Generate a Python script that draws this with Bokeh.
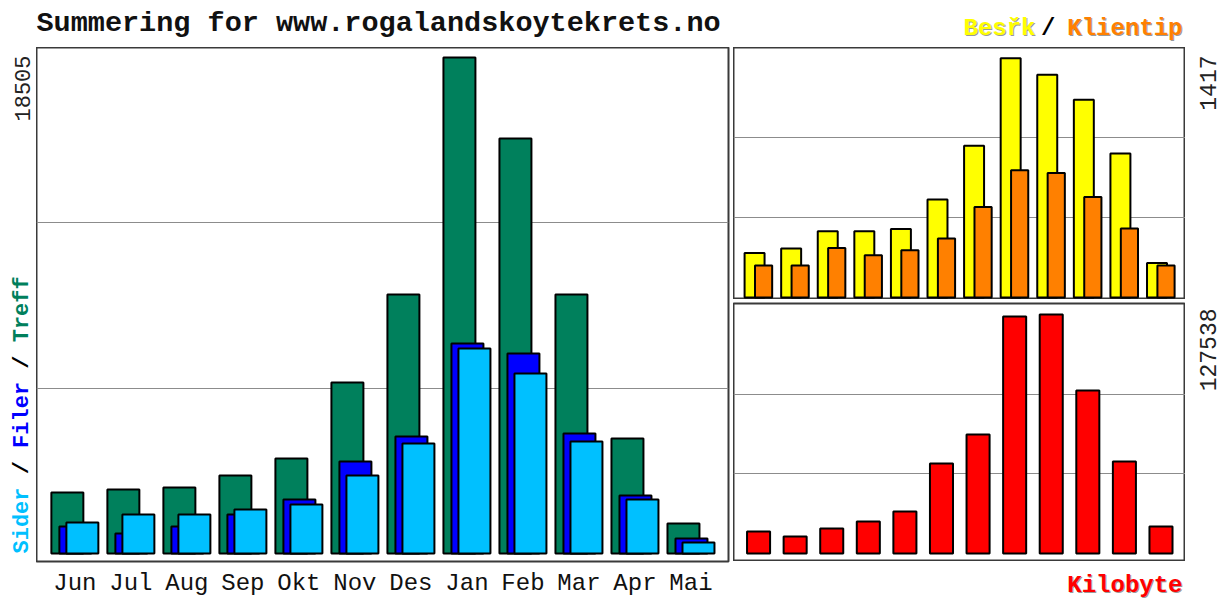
import math
from bokeh.plotting import figure
from bokeh.models import Range1d, FixedTicker, Grid
from bokeh.core.properties import value
from bokeh.layouts import row, column
from bokeh.embed import file_html
from bokeh.resources import INLINE

# ---------------- data ----------------
months = ["Jun", "Jul", "Aug", "Sep", "Okt", "Nov", "Des", "Jan", "Feb", "Mar", "Apr", "Mai"]
hits = [2276, 2388, 2462, 2910, 3544, 6380, 9663, 18505, 15483, 9663, 4290, 1119]
files = [1007, 746, 1007, 1455, 2015, 3432, 4365, 7835, 7462, 4477, 2164, 560]
pages = [1157, 1455, 1455, 1642, 1828, 2910, 4104, 7648, 6716, 4179, 2015, 410]
visits = [264, 290, 392, 392, 406, 580, 899, 1417, 1319, 1171, 852, 205]
sites = [189, 189, 293, 250, 280, 349, 536, 753, 737, 595, 408, 189]
kbytes = [11740, 9072, 13341, 17076, 22413, 48027, 63503, 126471, 127538, 86983, 49094, 14408]

title_text = "Summering for www.rogalandskoytekrets.no"
# (text, colour, start position in characters along the vertical legend)
left_legend = [("Sider", "#00C0FF", 0), ("/", "#000000", 6), ("Filer", "#0000FF", 8),
               ("/", "#000000", 14), ("Treff", "#00805C", 16)]
top_legend = [("Besřk", "#FFFF00"), ("/", "#000000"), ("Klientip", "#FF8000")]
kb_legend = ("Kilobyte", "#FF0000")

# ---------------- style ----------------
MONO = "Liberation Mono"
C_HITS, C_FILES, C_PAGES = "#00805C", "#0000FF", "#00C0FF"
C_VISITS, C_SITES, C_KB = "#FFFF00", "#FF8000", "#FF0000"
GRID = "#8c8c8c"
FRAME = "#3a3a3a"
SHADOW = "#9a9a9a"
BAR_LW = 2

idx = list(range(len(months)))
XR = (-0.685, 11.67)

# geometry (px)
H = 599
LEFT_STRIP_W, LEFT_W, RIGHT_W, RIGHT_STRIP_W = 36, 692, 452, 37
TOP_H = 47
L_FH, T_FH, B_FH = 514, 252, 258
GAP_LR, GAP_TB = 5, 4
BOT_H = H - TOP_H - L_FH


def yrange(vmax, frame_h, pad_bot, pad_top):
    ppu = (frame_h - pad_bot - pad_top) / vmax
    return Range1d(-pad_bot / ppu, vmax + pad_top / ppu)


def extend(r, frame_h, below, above):
    upp = (r.end - r.start) / frame_h
    return Range1d(r.start - below * upp, r.end + above * upp), upp


def plain_fig(w, h, xr, yr, l=0, r=0, t=0, b=0, xaxis=False):
    p = figure(frame_width=w, frame_height=h, x_range=xr, y_range=yr,
               output_backend="svg", toolbar_location=None,
               x_axis_location="below" if xaxis else None, y_axis_location=None,
               min_border_left=l, min_border_right=r, min_border_top=t, min_border_bottom=b,
               background_fill_color="white", border_fill_color="white")
    p.xgrid.visible = False
    p.ygrid.visible = False
    p.outline_line_color = None
    return p


def panel(fw, fh, yr, l=0, r=0, t=0, b=0, xaxis=False):
    p = plain_fig(fw, fh, Range1d(*XR), yr, l, r, t, b, xaxis)
    p.outline_line_color = FRAME
    p.outline_line_width = 2
    return p


def add_grid(p, vmax):
    p.add_layout(Grid(dimension=1, ticker=FixedTicker(ticks=[vmax / 3, 2 * vmax / 3]),
                      grid_line_color=GRID, grid_line_width=1.2))


def txt(p, x, y, s, color="#111111", size="22px", bold=False, align="left",
        baseline="middle", angle=0.0, shadow=False):
    kw = dict(text_font=value(MONO), text_font_size=value(size),
              text_font_style="bold" if bold else "normal",
              text_align=align, text_baseline=baseline, angle=angle)
    if shadow:
        p.text(x=[x], y=[y], text=[s], text_color=SHADOW, x_offset=1, y_offset=1, **kw)
    p.text(x=[x], y=[y], text=[s], text_color=color, **kw)


# ---------------- left panel ----------------
left_yr = yrange(max(hits), L_FH, 8, 10)
left = panel(LEFT_W, L_FH, left_yr, r=GAP_LR, b=BOT_H, xaxis=True)
add_grid(left, max(hits))

W = 0.571
left.vbar(x=[i - 0.134 for i in idx], top=hits, width=W, bottom=0,
          fill_color=C_HITS, line_color="black", line_width=BAR_LW)
left.vbar(x=[i + 0.009 for i in idx], top=files, width=W, bottom=0,
          fill_color=C_FILES, line_color="black", line_width=BAR_LW)
left.vbar(x=[i + 0.134 for i in idx], top=pages, width=W, bottom=0,
          fill_color=C_PAGES, line_color="black", line_width=BAR_LW)

ax = left.xaxis[0]
ax.ticker = FixedTicker(ticks=idx)
ax.major_label_overrides = {i: m for i, m in zip(idx, months)}
ax.axis_line_color = None
ax.major_tick_line_color = None
ax.minor_tick_line_color = None
ax.major_tick_out = 0
ax.major_tick_in = 0
ax.major_label_standoff = 8
ax.major_label_text_font = MONO
ax.major_label_text_font_size = "24px"
ax.major_label_text_color = "#111111"

# title strip above the left panel
title_fig = plain_fig(LEFT_W + GAP_LR, TOP_H, Range1d(0, LEFT_W + GAP_LR), Range1d(0, TOP_H))
txt(title_fig, 0, TOP_H - 23, title_text, size="28.5px", bold=True)

# left strip: max value + legend
lsr, lupp = extend(left_yr, L_FH, BOT_H, TOP_H)
lstrip = plain_fig(LEFT_STRIP_W, H, Range1d(0, LEFT_STRIP_W), lsr)
txt(lstrip, 22, max(hits) + 2 * lupp, str(max(hits)), color="#222222", size="22px",
    align="right", angle=math.pi / 2)
CH = 13.2
for s, col, pos in left_legend:
    txt(lstrip, 22, pos * CH * lupp, s, color=col, size="22px", bold=True,
        align="left", angle=math.pi / 2)

# ---------------- right top panel ----------------
top_yr = yrange(max(visits), T_FH, 2, 10.7)
rtop = panel(RIGHT_W, T_FH, top_yr)
add_grid(rtop, max(visits))
rtop.vbar(x=[i - 0.109 for i in idx], top=visits, width=0.546, bottom=0,
          fill_color=C_VISITS, line_color="black", line_width=BAR_LW)
rtop.vbar(x=[i + 0.137 for i in idx], top=sites, width=0.47, bottom=0,
          fill_color=C_SITES, line_color="black", line_width=BAR_LW)

legend_fig = plain_fig(RIGHT_W, TOP_H, Range1d(0, RIGHT_W), Range1d(0, TOP_H))
for (s, col), xr in zip(top_legend, [302, 322, 449]):
    txt(legend_fig, xr, TOP_H - 28, s, color=col, size="24px", bold=True, align="right",
        shadow=(col != "#000000"))

# ---------------- right bottom panel ----------------
bot_yr = yrange(max(kbytes), B_FH, 8, 11)
rbot = panel(RIGHT_W, B_FH, bot_yr, t=GAP_TB)
add_grid(rbot, max(kbytes))
rbot.vbar(x=idx, top=kbytes, width=0.63, bottom=0,
          fill_color=C_KB, line_color="black", line_width=BAR_LW)

kb_fig = plain_fig(RIGHT_W, BOT_H, Range1d(0, RIGHT_W), Range1d(0, BOT_H))
txt(kb_fig, 449, BOT_H - 24, kb_legend[0], color=kb_legend[1], size="24px", bold=True,
    align="right", shadow=True)

# ---------------- right strips ----------------
rtr, tupp = extend(top_yr, T_FH, 0, TOP_H)
rstrip_t = plain_fig(RIGHT_STRIP_W, TOP_H + T_FH, Range1d(0, RIGHT_STRIP_W), rtr)
txt(rstrip_t, 22, max(visits) + 2.7 * tupp, str(max(visits)), color="#222222", size="23px",
    align="right", angle=math.pi / 2)

rbr, bupp = extend(bot_yr, B_FH, BOT_H, GAP_TB)
rstrip_b = plain_fig(RIGHT_STRIP_W, GAP_TB + B_FH + BOT_H, Range1d(0, RIGHT_STRIP_W), rbr)
txt(rstrip_b, 22, max(kbytes) + 6 * bupp, str(max(kbytes)), color="#222222", size="23px",
    align="right", angle=math.pi / 2)

layout = row(
    lstrip,
    column(title_fig, left, spacing=0),
    column(legend_fig, rtop, rbot, kb_fig, spacing=0),
    column(rstrip_t, rstrip_b, spacing=0),
    spacing=0,
)
open("out.html", "w").write(file_html(layout, INLINE))
